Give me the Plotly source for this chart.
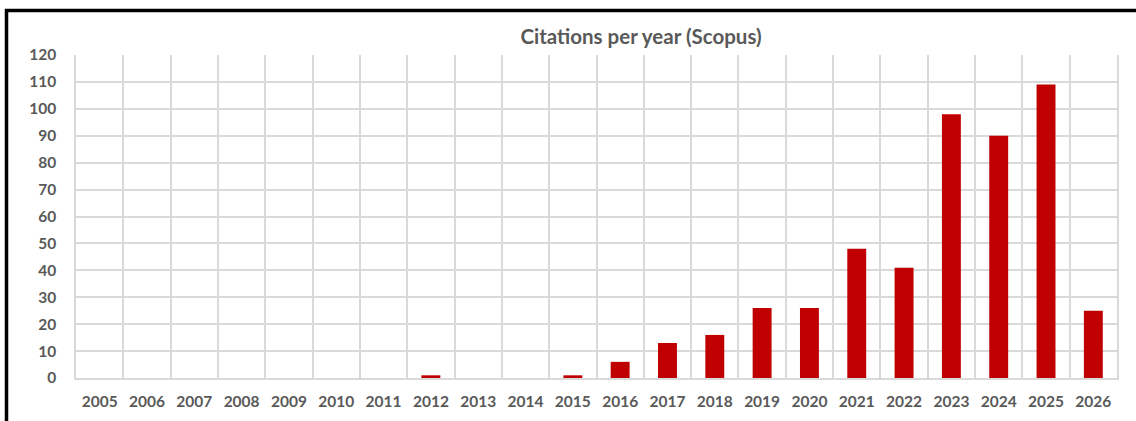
import plotly.graph_objects as go

years = list(range(2005, 2027))
citations = [0, 0, 0, 0, 0, 0, 0, 1, 0, 0, 1, 6, 13, 16, 26, 26, 48, 41, 98, 90, 109, 25]
year_labels = [str(y) for y in years]
y_ticks = list(range(0, 121, 10))

TXT = "#595959"
GRID = "#d9d9d9"
FONT = "Lato"

fig = go.Figure(go.Bar(
    x=years, y=citations, width=0.4,
    marker=dict(color="#C00000", line=dict(width=0)),
))

fig.update_layout(
    width=1136, height=421,
    margin=dict(l=76, r=19, t=55, b=43),
    paper_bgcolor="white", plot_bgcolor="white",
    showlegend=False,
    title=dict(text="<b>Citations per year (Scopus)</b>", x=641 / 1136, xref="container", xanchor="center",
               y=1 - 36.5 / 421, yref="container", yanchor="middle",
               font=dict(family=FONT, size=20.5, color=TXT)),
    font=dict(family=FONT, color=TXT),
)

fig.update_xaxes(
    range=[2004.5, 2026.5], tickmode="array", tickvals=years,
    ticktext=[f"<b>{t}</b>" for t in year_labels],
    tickfont=dict(family=FONT, size=15.5, color=TXT),
    showgrid=False, zeroline=False, ticks="outside", ticklen=9, tickcolor="rgba(0,0,0,0)",
    showline=True, linecolor=GRID, linewidth=1.5, mirror=False,
    minor=dict(tick0=2004.5, dtick=1, showgrid=True, gridcolor=GRID, gridwidth=1.5, ticks=""),
    fixedrange=True,
)
fig.update_yaxes(
    range=[0, 120], tickmode="array", tickvals=y_ticks,
    ticktext=[f"<b>{v}</b>" for v in y_ticks],
    tickfont=dict(family=FONT, size=15.5, color=TXT),
    showgrid=True, gridcolor=GRID, gridwidth=1.5, zeroline=False,
    ticks="outside", ticklen=15, tickcolor="rgba(0,0,0,0)",
    showline=True, linecolor=GRID, linewidth=1.5, mirror=True,
)

# outer chart border (box extends beyond the visible window on right and bottom)
fig.add_shape(type="rect", xref="paper", yref="paper",
              x0=(6.5 - 76) / 1041, x1=(1145 - 76) / 1041,
              y0=-(440 - 378) / 323, y1=1 + (55 - 10.5) / 323,
              line=dict(color="black", width=3.5), fillcolor="rgba(0,0,0,0)", layer="above")

fig.write_html("out.html", config={"displayModeBar": False},
               post_script="document.body.style.margin='0px';")
